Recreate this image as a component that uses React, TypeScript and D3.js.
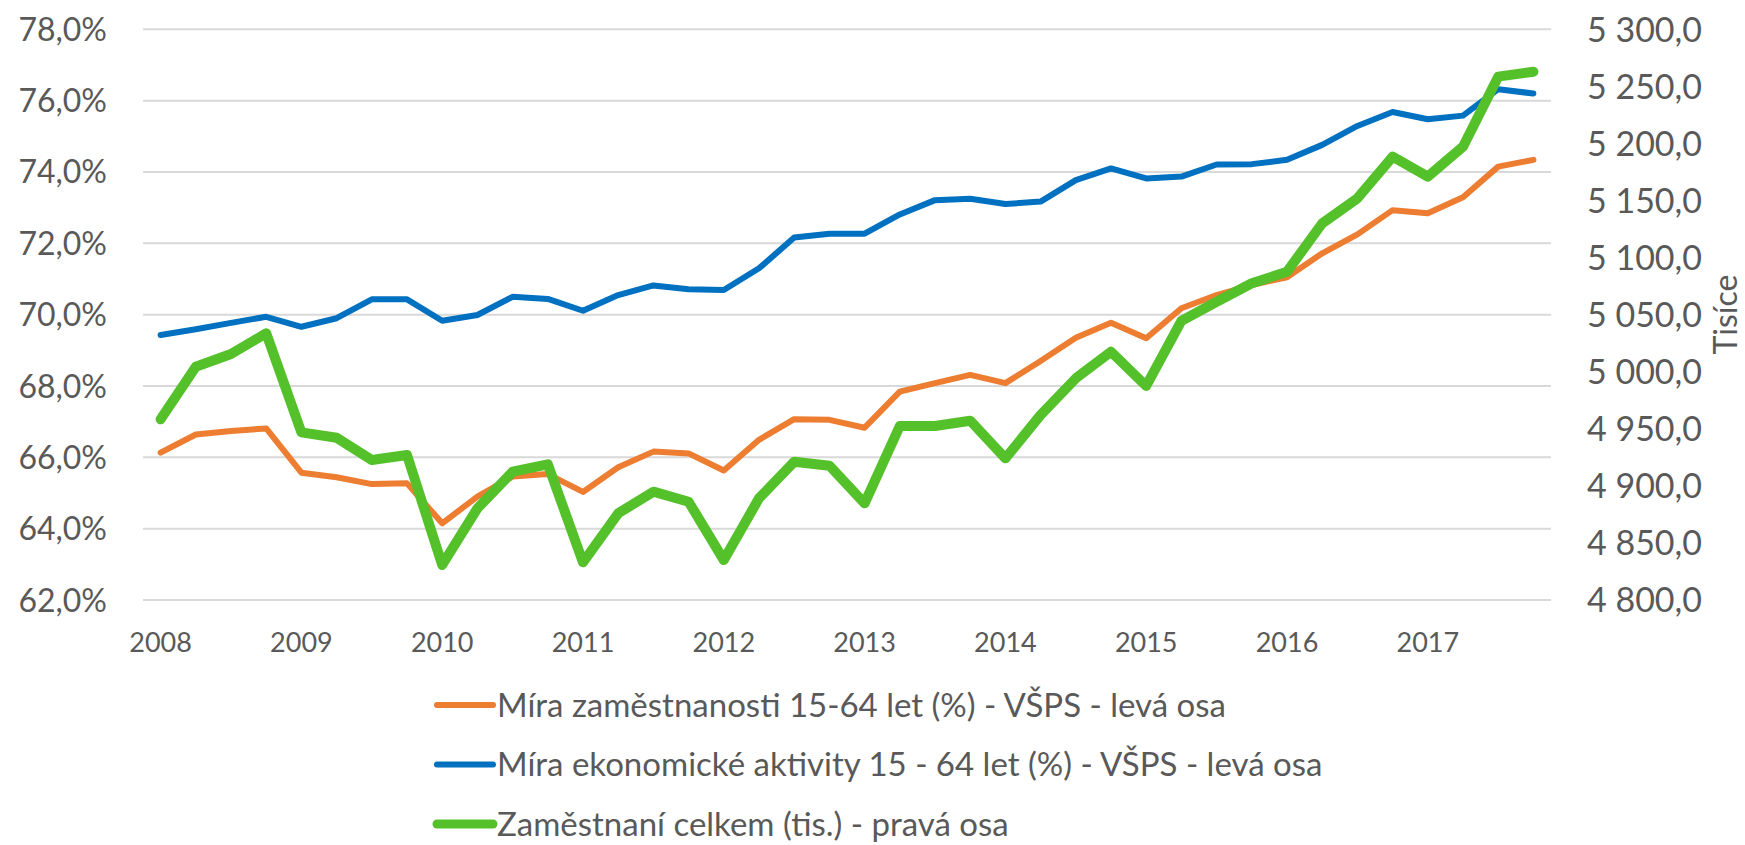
import React from 'react'
import * as d3 from 'd3'

// quarterly data 2008 Q1 .. 2017 Q4
const years = ['2008', '2009', '2010', '2011', '2012', '2013', '2014', '2015', '2016', '2017']
const quarters = ['Q1', 'Q2', 'Q3', 'Q4']
const categories = years.flatMap(y => quarters.map(q => `${y} ${q}`))

// Míra zaměstnanosti 15-64 let (%) - left axis
const employmentRate = [
  66.13, 66.64, 66.74, 66.81, 65.57, 65.44, 65.25, 65.27,
  64.15, 64.90, 65.46, 65.53, 65.03, 65.72, 66.16, 66.11,
  65.63, 66.49, 67.07, 67.05, 66.83, 67.84, 68.08, 68.31,
  68.08, 68.70, 69.35, 69.77, 69.34, 70.18, 70.55, 70.83,
  71.05, 71.72, 72.25, 72.93, 72.84, 73.29, 74.15, 74.34,
]

// Míra ekonomické aktivity 15-64 let (%) - left axis
const activityRate = [
  69.43, 69.59, 69.77, 69.94, 69.66, 69.90, 70.43, 70.43,
  69.83, 69.99, 70.50, 70.44, 70.11, 70.55, 70.82, 70.71,
  70.69, 71.30, 72.16, 72.27, 72.27, 72.81, 73.21, 73.25,
  73.10, 73.17, 73.77, 74.10, 73.82, 73.87, 74.21, 74.22,
  74.34, 74.76, 75.29, 75.68, 75.48, 75.58, 76.32, 76.20,
]

// Zaměstnaní celkem (tis.) - right axis
const employedTotal = [
  4958.3, 5004.4, 5015.5, 5033.7, 4946.9, 4942.2, 4922.7, 4927.0,
  4830.7, 4880.3, 4912.4, 4918.9, 4833.0, 4875.9, 4894.9, 4886.1,
  4835.0, 4889.1, 4921.2, 4917.7, 4884.7, 4952.4, 4952.4, 4957.1,
  4924.1, 4962.1, 4994.2, 5017.5, 4987.5, 5044.5, 5061.3, 5077.5,
  5087.6, 5130.0, 5151.9, 5188.4, 5170.9, 5197.2, 5258.5, 5262.8,
]

const leftTicks = [62, 64, 66, 68, 70, 72, 74, 76, 78]
const rightTicks = [4800, 4850, 4900, 4950, 5000, 5050, 5100, 5150, 5200, 5250, 5300]

const series = [
  { name: 'Míra zaměstnanosti 15-64 let (%) - VŠPS - levá osa', values: employmentRate, axis: 'left', color: '#ED7D31', width: 6, legendWidth: 6 },
  { name: 'Míra ekonomické aktivity 15 - 64 let (%) - VŠPS - levá osa', values: activityRate, axis: 'left', color: '#0070C0', width: 6, legendWidth: 6 },
  { name: 'Zaměstnaní celkem (tis.) - pravá osa', values: employedTotal, axis: 'right', color: '#54C12A', width: 10, legendWidth: 9 },
]

const W = 1745, H = 845
const plot = { left: 143, right: 1551, top: 29.3, bottom: 600 }
const font = 'Lato, "Open Sans", sans-serif'
const textColor = '#595959'

const czLocale = d3.formatLocale({ decimal: ',', thousands: ' ', grouping: [3], currency: ['', ''] })
const fmtRight = czLocale.format(',.1f')
const fmtLeft = (v: number) => czLocale.format('.1f')(v) + '%'

export default function App() {
  const x = d3.scaleBand<string>().domain(categories).range([plot.left, plot.right]).paddingInner(0).paddingOuter(0)
  const cx = (c: string) => (x(c) as number) + x.bandwidth() / 2
  const yL = d3.scaleLinear().domain([62, 78]).range([plot.bottom, plot.top])
  const yR = d3.scaleLinear().domain([4800, 5300]).range([plot.bottom, plot.top])

  const lineFor = (s: typeof series[number]) => {
    const y = s.axis === 'left' ? yL : yR
    return d3.line<number>()
      .x((_, i) => cx(categories[i]))
      .y(d => y(d))(s.values) as string
  }

  const yearLabels = categories.filter(c => c.endsWith('Q1'))

  return (
    <svg width={W} height={H} style={{ position: 'absolute', left: 0, top: 0, background: '#fff' }}
      fontFamily={font}>
      {leftTicks.map(t => (
        <line key={'g' + t} x1={plot.left} x2={plot.right} y1={yL(t)} y2={yL(t)}
          stroke="#D9D9D9" strokeWidth={2} />
      ))}
      {leftTicks.map(t => (
        <text key={'l' + t} x={107} y={yL(t)} dy="0.36em" textAnchor="end"
          fontSize={32} fill={textColor}>{fmtLeft(t)}</text>
      ))}
      {rightTicks.map(t => (
        <text key={'r' + t} x={1587} y={yR(t)} dy="0.36em" textAnchor="start"
          fontSize={34} fill={textColor}>{fmtRight(t)}</text>
      ))}
      <text transform={`translate(1725,${(plot.top + plot.bottom) / 2}) rotate(-90)`} dy="0.36em"
        textAnchor="middle" fontSize={32} fill={textColor}>Tisíce</text>
      {yearLabels.map(c => (
        <text key={c} x={cx(c)} y={642} dy="0.36em" textAnchor="middle"
          fontSize={27} fill={textColor}>{c.slice(0, 4)}</text>
      ))}
      {series.map(s => (
        <path key={s.name} d={lineFor(s)} fill="none" stroke={s.color} strokeWidth={s.width}
          strokeLinejoin="round" strokeLinecap="round" />
      ))}
      {series.map((s, i) => {
        const ly = 705 + i * 59.5
        return (
          <g key={'lg' + i}>
            <line x1={437} x2={493} y1={ly} y2={ly} stroke={s.color} strokeWidth={s.legendWidth} strokeLinecap="round" />
            <text x={497} y={ly} dy="0.36em" fontSize={33} fill={textColor}>{s.name}</text>
          </g>
        )
      })}
    </svg>
  )
}
